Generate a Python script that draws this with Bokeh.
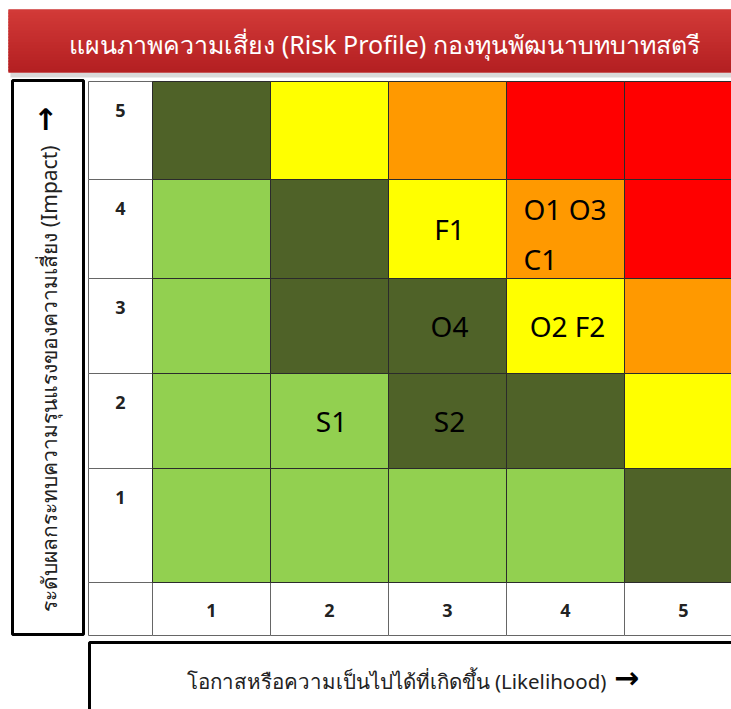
import numpy as np
from bokeh.plotting import figure
from bokeh.models import Range1d, ColumnDataSource
from bokeh.embed import file_html
from bokeh.resources import INLINE
from bokeh.core.properties import value

# ---------------- data ----------------
title_text = "แผนภาพความเสี่ยง (Risk Profile) กองทุนพัฒนาบทบาทสตรี"
y_title = "ระดับผลกระทบความรุนแรงของความเสี่ยง (Impact)"
x_title = "โอกาสหรือความเป็นไปได้ที่เกิดขึ้น (Likelihood)"
arrow_up = "→"
arrow_right = "→"

likelihood = [1, 2, 3, 4, 5]
impact = [5, 4, 3, 2, 1]
zone_rows = [
    ["medium", "high", "very_high", "extreme", "extreme"],   # impact 5
    ["low", "medium", "high", "very_high", "extreme"],       # impact 4
    ["low", "medium", "medium", "high", "very_high"],        # impact 3
    ["low", "low", "medium", "medium", "high"],              # impact 2
    ["low", "low", "low", "low", "medium"],                  # impact 1
]
risk_ids = ["F1", "O1", "O3", "C1", "O4", "O2", "F2", "S1", "S2"]
risk_likelihood = [3, 4, 4, 4, 3, 4, 4, 2, 3]
risk_impact = [4, 4, 4, 4, 3, 3, 3, 2, 2]

# ---------------- styles / layout ----------------
zone_colors = {
    "low": "#92D050",
    "medium": "#4F6228",
    "high": "#FFFF00",
    "very_high": "#FF9900",
    "extreme": "#FF0000",
}
FONT = "Noto Sans"
X0, CW = 152, 118            # first risk column left edge, column width
HDR_X = (88, 152)            # impact label column
row_span = {5: (81, 179), 4: (179, 278), 3: (278, 373), 2: (373, 468), 1: (468, 582)}
HDR_Y = (582, 635)           # likelihood label row

def col_left(l):
    return X0 + (l - 1) * CW

p = figure(width=731, height=709, x_range=Range1d(0, 731), y_range=Range1d(709, 0),
           output_backend="svg", toolbar_location=None, min_border=0,
           background_fill_color="white", border_fill_color="white")
p.axis.visible = False
p.grid.visible = False
p.outline_line_color = None

# ---------------- title banner ----------------
n_band = 21
edges = np.linspace(9, 72, n_band + 1)
c_top = np.array([210, 58, 56])
c_bot = np.array([180, 32, 34])
band_cols = []
for i in range(n_band):
    t = i / (n_band - 1)
    c = (c_top * (1 - t) + c_bot * t).astype(int)
    band_cols.append("#%02x%02x%02x" % tuple(c))
p.quad(left=[10], right=[745], top=[72], bottom=[77], fill_color="#d9d9d9", line_color=None)
p.quad(left=[8], right=[745], top=[9], bottom=[72], fill_color=band_cols[n_band // 2], line_color=None)
bt = list(edges[:-1])
bb = [min(e + 1.5, 72) for e in edges[1:]]
p.quad(left=[8] * n_band, right=[745] * n_band, top=bt, bottom=bb,
       fill_color=band_cols, line_color=None)
p.text(x=[384], y=[43], text=[title_text], text_color="white", text_font=value(FONT),
       text_font_size="25px", text_align="center", text_baseline="middle")

# ---------------- header cells ----------------
hl, hr, ht, hb = [], [], [], []
for imp in impact:
    hl.append(HDR_X[0]); hr.append(HDR_X[1]); ht.append(row_span[imp][0]); hb.append(row_span[imp][1])
hl.append(HDR_X[0]); hr.append(HDR_X[1]); ht.append(HDR_Y[0]); hb.append(HDR_Y[1])
for l in likelihood:
    hl.append(col_left(l)); hr.append(col_left(l) + CW); ht.append(HDR_Y[0]); hb.append(HDR_Y[1])
p.quad(left=hl, right=hr, top=ht, bottom=hb, fill_color="white", line_color="#666666", line_width=1)

# ---------------- risk zone cells ----------------
cl, cr, ct, cb, cc = [], [], [], [], []
for ri, imp in enumerate(impact):
    for ci, l in enumerate(likelihood):
        cl.append(col_left(l)); cr.append(col_left(l) + CW)
        ct.append(row_span[imp][0]); cb.append(row_span[imp][1])
        cc.append(zone_colors[zone_rows[ri][ci]])
p.quad(left=cl, right=cr, top=ct, bottom=cb, fill_color=cc, line_color="#2b2b2b", line_width=1)

# ---------------- scale labels ----------------
p.text(x=[sum(HDR_X) / 2] * 5, y=[row_span[i][0] + 29 for i in impact], text=[str(i) for i in impact],
       text_font=value(FONT), text_font_size="18px", text_font_style="bold", text_color="#222222",
       text_align="center", text_baseline="middle")
p.text(x=[col_left(l) + CW / 2 for l in likelihood], y=[sum(HDR_Y) / 2 + 1] * 5, text=[str(l) for l in likelihood],
       text_font=value(FONT), text_font_size="18px", text_font_style="bold", text_color="#222222",
       text_align="center", text_baseline="middle")

# ---------------- risk labels ----------------
groups = {}
for rid, l, i in zip(risk_ids, risk_likelihood, risk_impact):
    groups.setdefault((l, i), []).append(rid)
tx, ty, tt, ta = [], [], [], []
LINE = 50
for (l, i), ids in groups.items():
    lines = [" ".join(ids[k:k + 2]) for k in range(0, len(ids), 2)]
    yc = (row_span[i][0] + row_span[i][1]) / 2 + (5 if len(lines) > 1 else 0)
    for k, ln in enumerate(lines):
        y = yc + (k - (len(lines) - 1) / 2) * LINE
        if len(lines) > 1:
            tx.append(col_left(l) + 17); ta.append("left")
        else:
            tx.append(col_left(l) + CW / 2 + 2); ta.append("center")
        ty.append(y); tt.append(ln)
src = ColumnDataSource(dict(x=tx, y=ty, text=tt, align=ta))
p.text(x="x", y="y", text="text", text_align="align", source=src, text_font=value(FONT),
       text_font_size="28px", text_color="black", text_baseline="middle")

# ---------------- axis title boxes ----------------
p.quad(left=[12], right=[83], top=[80], bottom=[634], fill_color=None, line_color="black", line_width=3)
p.text(x=[48], y=[378], text=[y_title], angle=np.pi / 2, text_font=value(FONT), text_font_size="21px",
       text_color="#222222", text_align="center", text_baseline="middle")
p.text(x=[44], y=[119], text=[arrow_up], angle=np.pi / 2, text_font=value("DejaVu Sans"),
       text_font_size="30px", text_font_style="bold", text_color="black",
       text_align="center", text_baseline="middle")
p.quad(left=[89], right=[760], top=[642], bottom=[730], fill_color=None, line_color="black", line_width=3)
p.text(x=[396], y=[680], text=[x_title], text_font=value(FONT), text_font_size="20.5px",
       text_color="#222222", text_align="center", text_baseline="middle")
p.text(x=[626], y=[677], text=[arrow_right], text_font=value("DejaVu Sans"),
       text_font_size="30px", text_font_style="bold", text_color="black",
       text_align="center", text_baseline="middle")

open("out.html", "w").write(file_html(p, INLINE))
